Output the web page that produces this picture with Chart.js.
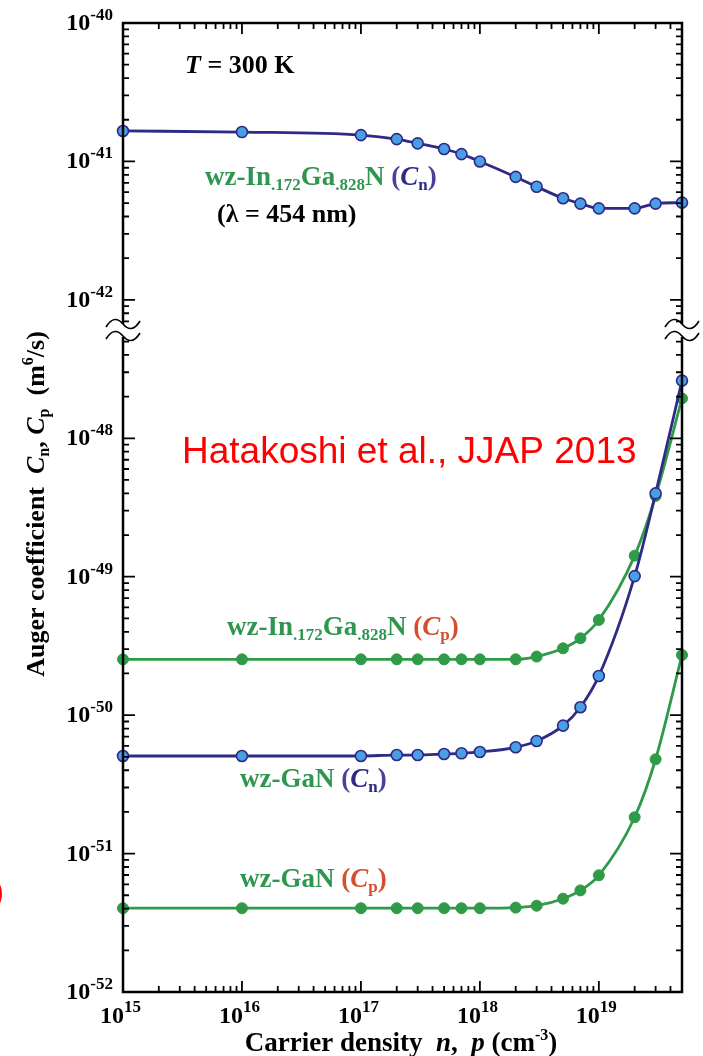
<!DOCTYPE html>
<html><head><meta charset="utf-8">
<script src="https://cdn.jsdelivr.net/npm/chart.js@4.4.0/dist/chart.umd.min.js"></script>
<style>html,body{margin:0;padding:0;background:#fff;}canvas{display:block;}</style>
</head><body>
<canvas id="c" width="703" height="1056"></canvas>
<script>
// ---- data ----
const carrierDensity = [1e15,1e16,1e17,2e17,3e17,5e17,7e17,1e18,2e18,3e18,5e18,7e18,1e19,2e19,3e19,5e19];
const inganCn = [1.66e-41,1.63e-41,1.55e-41,1.45e-41,1.35e-41,1.23e-41,1.13e-41,1.00e-41,7.73e-42,6.57e-42,5.42e-42,4.96e-42,4.58e-42,4.58e-42,4.96e-42,5.04e-42];
const inganCp = [2.53e-50,2.53e-50,2.53e-50,2.53e-50,2.53e-50,2.53e-50,2.53e-50,2.53e-50,2.53e-50,2.65e-50,3.04e-50,3.59e-50,4.87e-50,1.42e-49,3.83e-49,1.94e-48];
const ganCn = [5.07e-51,5.07e-51,5.07e-51,5.15e-51,5.15e-51,5.24e-51,5.30e-51,5.42e-51,5.86e-51,6.5e-51,8.4e-51,1.14e-50,1.92e-50,1.01e-49,4.0e-49,2.61e-48];
const ganCp = [4.03e-52,4.03e-52,4.03e-52,4.03e-52,4.03e-52,4.03e-52,4.03e-52,4.03e-52,4.07e-52,4.2e-52,4.72e-52,5.42e-52,6.97e-52,1.83e-51,4.8e-51,2.72e-50];
const xTickExponents = [15,16,17,18,19];
const yUpperTickExponents = [-40,-41,-42];
const yLowerTickExponents = [-48,-49,-50,-51,-52];

// ---- styles ----
const SERIF = '"Liberation Serif","Times New Roman",serif';
const SANS = '"Liberation Sans",Arial,sans-serif';
const B = s => `bold ${s}px ${SERIF}`;
const BI = s => `italic bold ${s}px ${SERIF}`;
const NAVY = '#2e2a86', LIGHTBLUE = '#4a9fe4', GREEN = '#2f9a48';
const TXTGREEN = '#2f9650', PURPLE = '#4a3f9a', ORANGE = '#d4502c';
const AF = 27, AS = 17; // annotation font / subscript

function rich(ctx, x, y, segs, align) {
  let w = 0;
  segs.forEach(s => { ctx.font = s[1]; w += ctx.measureText(s[0]).width; });
  let cx = align === 'center' ? x - w / 2 : (align === 'right' ? x - w : x);
  segs.forEach(s => {
    ctx.font = s[1]; ctx.fillStyle = s[2];
    ctx.fillText(s[0], cx, y + (s[3] || 0));
    cx += ctx.measureText(s[0]).width;
  });
}
function wave(ctx, cx, cy) {
  ctx.beginPath();
  ctx.moveTo(cx - 17, cy + 3);
  ctx.bezierCurveTo(cx - 11, cy - 7, cx - 5, cy - 6, cx, cy);
  ctx.bezierCurveTo(cx + 5, cy + 6, cx + 11, cy + 7, cx + 17, cy - 3);
  ctx.stroke();
}

const BREAK_TOP = 325, BREAK_BOT = 336;

const decor = {
  id: 'decor',
  afterDatasetsDraw(chart) {
    const ctx = chart.ctx, a = chart.chartArea;
    const xs = chart.scales.x, yu = chart.scales.yUpper, yl = chart.scales.yLower;
    ctx.save();
    ctx.strokeStyle = '#000'; ctx.lineWidth = 2.5;
    ctx.strokeRect(a.left, a.top, a.right - a.left, a.bottom - a.top);
    ctx.lineWidth = 1.8;
    // x ticks
    for (let d = 15; d <= 19; d++) {
      for (let m = 1; m <= 9; m++) {
        const v = m * Math.pow(10, d);
        if (v > 5e19 * 1.0001) continue;
        const px = xs.getPixelForValue(v);
        const L = m === 1 ? 11 : 6;
        ctx.beginPath();
        ctx.moveTo(px, a.bottom); ctx.lineTo(px, a.bottom - L);
        ctx.moveTo(px, a.top); ctx.lineTo(px, a.top + L);
        ctx.stroke();
      }
    }
    // y ticks
    const yt = (py, major) => {
      const L = major ? 12 : 6;
      ctx.beginPath();
      ctx.moveTo(a.left, py); ctx.lineTo(a.left + L, py);
      ctx.moveTo(a.right, py); ctx.lineTo(a.right - L, py);
      ctx.stroke();
    };
    for (let d = -43; d <= -40; d++) {
      for (let m = 1; m <= 9; m++) {
        const v = m * Math.pow(10, d);
        const py = yu.getPixelForValue(v);
        if (py < a.top - 0.5 || py > BREAK_TOP - 2) continue;
        yt(py, m === 1);
      }
    }
    for (let d = -52; d <= -48; d++) {
      for (let m = 1; m <= 9; m++) {
        const v = m * Math.pow(10, d);
        const py = yl.getPixelForValue(v);
        if (py > a.bottom + 0.5 || py < BREAK_BOT + 2) continue;
        yt(py, m === 1);
      }
    }
    // breaks
    [a.left, a.right].forEach(cx => {
      ctx.fillStyle = '#fff';
      ctx.fillRect(cx - 4, BREAK_TOP - 1, 8, BREAK_BOT - BREAK_TOP + 2);
      ctx.strokeStyle = '#000'; ctx.lineWidth = 1.6;
      wave(ctx, cx, BREAK_TOP - 1);
      wave(ctx, cx, BREAK_BOT);
    });
    ctx.restore();
  },
  afterDraw(chart) {
    const ctx = chart.ctx;
    const xs = chart.scales.x, yu = chart.scales.yUpper, yl = chart.scales.yLower;
    ctx.save();
    ctx.textAlign = 'left'; ctx.textBaseline = 'alphabetic';
    // y tick labels
    const ylab = (py, e) => {
      ctx.font = B(17); const sw = ctx.measureText(String(e)).width;
      ctx.fillStyle = '#000';
      ctx.fillText(String(e), 113 - sw, py - 3);
      ctx.font = B(24); const bw = ctx.measureText('10').width;
      ctx.fillText('10', 113 - sw - bw, py + 7);
    };
    yUpperTickExponents.forEach(e => ylab(yu.getPixelForValue(Math.pow(10, e)), e));
    yLowerTickExponents.forEach(e => ylab(yl.getPixelForValue(Math.pow(10, e)), e));
    // x tick labels
    xTickExponents.forEach(e => {
      const px = xs.getPixelForValue(Math.pow(10, e));
      ctx.fillStyle = '#000';
      ctx.font = B(24); const bw = ctx.measureText('10').width;
      ctx.fillText('10', px + 1 - bw, 1023);
      ctx.font = B(17);
      ctx.fillText(String(e), px + 1, 1012);
    });
    // axis titles
    rich(ctx, 401, 1051, [
      ['Carrier density  ', B(27), '#000'], ['n', BI(27), '#000'], [',  ', B(27), '#000'],
      ['p', BI(27), '#000'], [' (cm', B(27), '#000'], ['-3', B(16), '#000', -11], [')', B(27), '#000']
    ], 'center');
    ctx.save();
    ctx.translate(44, 504); ctx.rotate(-Math.PI / 2);
    rich(ctx, 0, 0, [
      ['Auger coefficient  ', B(26), '#000'], ['C', BI(26), '#000'], ['n', B(16), '#000', 5],
      [', ', B(26), '#000'], ['C', BI(26), '#000'], ['p', B(16), '#000', 5],
      ['  (m', B(26), '#000'], ['6', B(16), '#000', -11], ['/s)', B(26), '#000']
    ], 'center');
    ctx.restore();
    // annotations
    rich(ctx, 185, 73, [['T', BI(AF - 1), '#000'], [' = 300 K', B(AF - 1), '#000']]);
    rich(ctx, 205, 185, [
      ['wz-In', B(AF), TXTGREEN], ['.172', B(AS), TXTGREEN, 5], ['Ga', B(AF), TXTGREEN],
      ['.828', B(AS), TXTGREEN, 5], ['N ', B(AF), TXTGREEN], ['(', B(AF), PURPLE],
      ['C', BI(AF), NAVY], ['n', B(AS), NAVY, 5], [')', B(AF), PURPLE]
    ]);
    rich(ctx, 217, 222, [['(\u03BB = 454 nm)', B(AF - 1), '#000']]);
    rich(ctx, 227, 635, [
      ['wz-In', B(AF), TXTGREEN], ['.172', B(AS), TXTGREEN, 5], ['Ga', B(AF), TXTGREEN],
      ['.828', B(AS), TXTGREEN, 5], ['N ', B(AF), TXTGREEN], ['(', B(AF), ORANGE],
      ['C', BI(AF), ORANGE], ['p', B(AS), ORANGE, 5], [')', B(AF), ORANGE]
    ]);
    rich(ctx, 240, 787, [
      ['wz-GaN ', B(AF), TXTGREEN], ['(', B(AF), PURPLE], ['C', BI(AF), NAVY],
      ['n', B(AS), NAVY, 5], [')', B(AF), PURPLE]
    ]);
    rich(ctx, 240, 887, [
      ['wz-GaN ', B(AF), TXTGREEN], ['(', B(AF), ORANGE], ['C', BI(AF), ORANGE],
      ['p', B(AS), ORANGE, 5], [')', B(AF), ORANGE]
    ]);
    ctx.font = `37px ${SANS}`; ctx.fillStyle = '#ff0000';
    ctx.fillText('Hatakoshi et al., JJAP 2013', 182, 463);
    ctx.font = `32px ${SANS}`;
    ctx.textAlign = 'right'; ctx.textBaseline = 'middle';
    ctx.fillText(')', 4, 893);
    ctx.restore();
  }
};

const pts = arr => carrierDensity.map((x, i) => ({ x, y: arr[i] }));
const common = { borderWidth: 2.8, pointRadius: 5.5, pointHoverRadius: 5.5, cubicInterpolationMode: 'monotone', clip: false, fill: false };

new Chart(document.getElementById('c'), {
  type: 'line',
  data: {
    datasets: [
      Object.assign({ label: 'wz-In.172Ga.828N (Cn)', data: pts(inganCn), yAxisID: 'yUpper', borderColor: NAVY,
        pointBackgroundColor: LIGHTBLUE, pointBorderColor: NAVY, pointBorderWidth: 1.6 }, common),
      Object.assign({ label: 'wz-GaN (Cn)', data: pts(ganCn), yAxisID: 'yLower', borderColor: NAVY,
        pointBackgroundColor: LIGHTBLUE, pointBorderColor: NAVY, pointBorderWidth: 1.6 }, common),
      Object.assign({ label: 'wz-In.172Ga.828N (Cp)', data: pts(inganCp), yAxisID: 'yLower', borderColor: GREEN,
        pointBackgroundColor: GREEN, pointBorderColor: GREEN, pointBorderWidth: 1 }, common),
      Object.assign({ label: 'wz-GaN (Cp)', data: pts(ganCp), yAxisID: 'yLower', borderColor: GREEN,
        pointBackgroundColor: GREEN, pointBorderColor: GREEN, pointBorderWidth: 1 }, common)
    ]
  },
  options: {
    responsive: false, animation: false, events: [],
    layout: { padding: { left: 123, right: 21, top: 23, bottom: 64 } },
    plugins: { legend: { display: false }, tooltip: { enabled: false } },
    scales: {
      x: { type: 'logarithmic', min: 1e15, max: 5e19, display: false },
      yUpper: { type: 'logarithmic', position: 'left', min: 1e-47, max: 1e-40, display: false },
      yLower: { type: 'logarithmic', position: 'left', min: 1e-52, max: 1e-45, display: false }
    }
  },
  plugins: [decor]
});
</script>
</body></html>
